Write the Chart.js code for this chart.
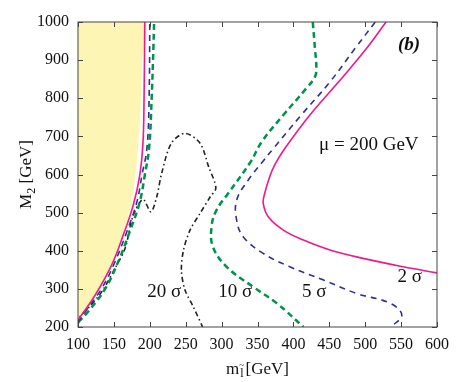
<!DOCTYPE html>
<html>
<head>
<meta charset="utf-8">
<script src="https://cdn.jsdelivr.net/npm/chart.js@4.4.0/dist/chart.umd.min.js"></script>
<style>
  html, body { margin: 0; padding: 0; background: #fff; }
</style>
</head>
<body>
<canvas id="chart" width="463" height="382"></canvas>
<script>
// axis ticks
const xTickValues = [100, 150, 200, 250, 300, 350, 400, 450, 500, 550, 600];
const yTickValues = [200, 300, 400, 500, 600, 700, 800, 900, 1000];

// excluded region (yellow)
const allowedX = [100, 124, 147, 162, 174, 180, 184, 187, 189.5, 191, 100];
const allowedY = [216, 284, 363, 441, 520, 598, 680, 780, 900, 1000, 1000];

// 2 sigma, solid pink
const s2LeftX = [100, 124, 147, 163, 177, 186, 190.5, 192, 193];
const s2LeftY = [218, 284, 363, 441, 520, 598, 683, 800, 1000];
const s2RightX = [529, 502, 463, 423, 388, 374, 367, 360, 358, 365, 386, 414, 451, 497, 553, 600];
const s2RightY = [1000, 931, 843, 756, 668, 625, 594, 550, 524, 489, 454, 428, 402, 380, 358, 342];

// 5 sigma, blue dashed
const s5LeftX = [100, 110, 133, 151.5, 168, 182, 189, 196, 199, 200];
const s5LeftY = [212, 240, 301, 371, 450, 528, 598, 669, 800, 1000];
const s5RightX = [514, 486, 451, 411, 372, 356, 337, 321, 321, 330, 358, 395, 442, 488, 535, 551, 536];
const s5RightY = [1000, 931, 843, 756, 668, 631, 585, 533, 480, 437, 393, 358, 323, 288, 262, 231, 200];

// 10 sigma, green dashed
const s10LeftX = [100, 114, 138, 156, 172, 186, 193, 199, 202.6, 205, 206];
const s10LeftY = [212, 240, 301, 371, 450, 528, 598, 669, 800, 931, 1000];
const s10RightX = [427, 430, 432, 430, 418, 386, 356, 340, 309, 293, 286, 288, 307, 344, 377, 414];
const s10RightY = [1000, 931, 878, 856, 826, 756, 686, 632, 550, 507, 463, 410, 358, 305, 262, 200];

// 20 sigma, black dash-dot
const s20X = [100, 103, 114, 133, 151.5, 165.5, 177, 190.5, 201.5, 209.6, 216.5, 230, 249, 270, 282, 292, 284, 270, 256, 247, 244, 249, 260.6, 273.6];
const s20Y = [205, 227, 249, 292, 354, 406, 493, 535, 502, 541, 603, 682, 708, 682, 620, 565, 541, 498, 454, 402, 349, 297, 253, 200];

// text inside the frame
const noteText = ['20 σ', '10 σ', '5 σ', '2 σ', 'μ = 200 GeV'];
const noteX = [220, 319, 429, 562, 505];
const noteY = [291, 291, 291, 331, 677];

function pts(xs, ys) {
  return xs.map((x, i) => ({x: x, y: ys[i]}));
}

const serif = '"Liberation Serif", "Times New Roman", serif';
Chart.defaults.font.family = serif;

const framePlugin = {
  id: 'frame',
  afterDatasetsDraw(chart) {
    const ctx = chart.ctx;
    const a = chart.chartArea;
    const xs = chart.scales.x, ys = chart.scales.y;
    ctx.save();
    ctx.strokeStyle = '#444';
    ctx.lineWidth = 1;
    ctx.strokeRect(a.left, a.top, a.right - a.left, a.bottom - a.top);
    ctx.beginPath();
    xTickValues.forEach(v => {
      const p = Math.round(xs.getPixelForValue(v)) + 0.5;
      ctx.moveTo(p, a.bottom); ctx.lineTo(p, a.bottom - 5);
      ctx.moveTo(p, a.top); ctx.lineTo(p, a.top + 5);
    });
    yTickValues.forEach(v => {
      const p = Math.round(ys.getPixelForValue(v)) + 0.5;
      ctx.moveTo(a.left, p); ctx.lineTo(a.left + 5, p);
      ctx.moveTo(a.right, p); ctx.lineTo(a.right - 5, p);
    });
    ctx.stroke();

    // labels on the curves
    ctx.fillStyle = '#111';
    ctx.textAlign = 'center';
    ctx.textBaseline = 'middle';
    ctx.font = '19px ' + serif;
    noteText.forEach((t, i) => {
      ctx.fillText(t, xs.getPixelForValue(noteX[i]), ys.getPixelForValue(noteY[i]));
    });
    ctx.font = 'italic bold 19px ' + serif;
    ctx.fillText('(b)', xs.getPixelForValue(561), ys.getPixelForValue(940));

    // y title: M2 [GeV]
    ctx.save();
    ctx.translate(25, (a.top + a.bottom) / 2);
    ctx.rotate(-Math.PI / 2);
    ctx.textAlign = 'left';
    ctx.textBaseline = 'alphabetic';
    ctx.font = '17px ' + serif;
    const wM = ctx.measureText('M').width;
    const wG = ctx.measureText(' [GeV]').width;
    ctx.font = '12px ' + serif;
    const w2 = ctx.measureText('2').width;
    let x0 = -(wM + w2 + wG) / 2;
    ctx.font = '17px ' + serif;
    ctx.fillText('M', x0, 6);
    ctx.font = '12px ' + serif;
    ctx.fillText('2', x0 + wM, 10);
    ctx.font = '17px ' + serif;
    ctx.fillText(' [GeV]', x0 + wM + w2, 6);
    ctx.restore();

    // x title: m_l~ [GeV]
    ctx.textAlign = 'left';
    ctx.textBaseline = 'alphabetic';
    ctx.font = '17px ' + serif;
    const wm = ctx.measureText('m').width;
    const wg = ctx.measureText('[GeV]').width;
    ctx.font = '12px ' + serif;
    const wl = ctx.measureText('l').width + 3;
    let cx = (a.left + a.right) / 2 - (wm + wl + wg) / 2;
    const by = 374;
    ctx.font = '17px ' + serif;
    ctx.fillText('m', cx, by);
    ctx.font = '12px ' + serif;
    ctx.fillText('l', cx + wm + 1, by + 3);
    ctx.font = '9px ' + serif;
    ctx.fillText('~', cx + wm, by - 6);
    ctx.font = '17px ' + serif;
    ctx.fillText('[GeV]', cx + wm + wl, by);
    ctx.restore();
  }
};

function curve(xs, ys, color, width, dash) {
  return {
    data: pts(xs, ys),
    showLine: true,
    borderColor: color,
    borderWidth: width,
    borderDash: dash,
    pointRadius: 0,
    tension: 0.4,
    fill: false
  };
}

const pink = '#f0188a', blue = '#2e3192', green = '#00924a', black = '#222';

new Chart(document.getElementById('chart'), {
  type: 'scatter',
  data: {
    datasets: [
      curve(s2LeftX, s2LeftY, pink, 1.6, []),
      curve(s2RightX, s2RightY, pink, 1.6, []),
      curve(s5LeftX, s5LeftY, blue, 1.6, [6, 5]),
      curve(s5RightX, s5RightY, blue, 1.6, [6, 5]),
      curve(s10LeftX, s10LeftY, green, 2.5, [6, 4]),
      curve(s10RightX, s10RightY, green, 2.5, [6, 4]),
      Object.assign(curve(s20X, s20Y, black, 1.6, [5, 3, 1.5, 3]), {tension: 0.3}),
      {
        data: pts(allowedX, allowedY),
        showLine: true,
        borderWidth: 0,
        borderColor: 'rgba(0,0,0,0)',
        backgroundColor: '#fcf5b4',
        pointRadius: 0,
        tension: 0.3,
        fill: 'shape'
      }
    ]
  },
  options: {
    responsive: false,
    animation: false,
    layout: { padding: { top: 22, right: 26, left: 0, bottom: 0 } },
    plugins: { legend: { display: false }, tooltip: { enabled: false } },
    scales: {
      x: {
        type: 'linear',
        min: 100, max: 600,
        afterBuildTicks: s => { s.ticks = xTickValues.map(v => ({value: v})); },
        afterFit: s => { s.height = 55; },
        grid: { display: false, drawTicks: false },
        border: { display: false },
        ticks: { color: '#111', padding: 8, maxRotation: 0, callback: v => String(v),
                 font: { family: serif, size: 16 } }
      },
      y: {
        type: 'linear',
        min: 200, max: 1000,
        afterBuildTicks: s => { s.ticks = yTickValues.map(v => ({value: v})); },
        afterFit: s => { s.width = 78; },
        grid: { display: false, drawTicks: false },
        border: { display: false },
        ticks: { color: '#111', padding: 9, callback: v => String(v),
                 font: { family: serif, size: 16 } }
      }
    }
  },
  plugins: [framePlugin]
});
</script>
</body>
</html>
